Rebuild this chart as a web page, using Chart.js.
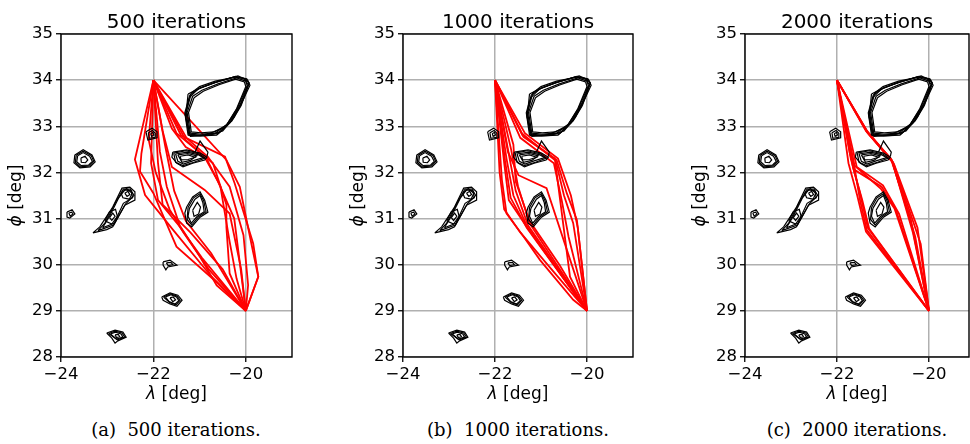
<!DOCTYPE html>
<html>
<head>
<meta charset="utf-8">
<script src="https://cdn.jsdelivr.net/npm/chart.js@4.4.0/dist/chart.umd.min.js"></script>
<style>
  body { margin: 0; width: 970px; height: 444px; overflow: hidden; background: #fff; position: relative; }
  canvas { position: absolute; top: 0; }
  .cap { position: absolute; top: 419px; font-family: "DejaVu Serif"; font-size: 18px; line-height: 21px;
         white-space: pre; transform: translateX(-50%); color: #000; }
</style>
</head>
<body>
<canvas id="c1" width="310" height="410" style="left:0px"></canvas>
<canvas id="c2" width="309" height="410" style="left:342px"></canvas>
<canvas id="c3" width="303" height="410" style="left:684px"></canvas>
<div class="cap" style="left:176px">(a)  500 iterations.</div>
<div class="cap" style="left:518px">(b)  1000 iterations.</div>
<div class="cap" style="left:857px">(c)  2000 iterations.</div>
<script>
// axes
const xTicks = [-24, -22, -20];
const yTicks = [28, 29, 30, 31, 32, 33, 34, 35];
const titles = ['500 iterations', '1000 iterations', '2000 iterations'];
const xMaxes = [-19.0, -19.0, -19.13];

// path end points
const pathStart = [-22, 34];
const pathEnd = [-20, 29];

// red paths, intermediate points (lambda, phi)
const paths500 = [
  [[-22.40, 32.28], [-22.18, 31.51], [-21.57, 30.75], [-20.75, 29.75]],
  [[-22.26, 32.41], [-22.29, 32.02], [-22.00, 31.55], [-21.50, 30.39], [-20.63, 29.62]],
  [[-22.05, 32.20], [-21.90, 31.40], [-21.45, 30.85], [-20.95, 30.15]],
  [[-21.86, 32.45], [-21.71, 31.69], [-21.43, 30.85], [-20.99, 30.17], [-20.63, 29.55]],
  [[-21.80, 32.90], [-21.60, 32.12], [-20.89, 31.62], [-20.35, 31.11], [-20.10, 29.90]],
  [[-21.28, 32.74], [-20.82, 32.34], [-20.35, 31.69], [-20.05, 30.64], [-19.95, 29.56]],
  [[-21.40, 32.80], [-20.45, 32.34], [-20.24, 31.76], [-19.84, 30.46], [-19.73, 29.74]],
  [[-21.30, 32.70], [-20.71, 32.20], [-20.42, 31.30], [-20.42, 30.82], [-20.35, 29.81]],
  [[-21.75, 32.60], [-21.55, 31.60], [-21.30, 30.95], [-20.75, 30.25]],
  [[-21.50, 32.85], [-20.90, 32.35], [-20.60, 31.80], [-20.25, 31.00], [-20.15, 30.20]],
  [[-21.90, 32.20], [-21.80, 31.30], [-21.20, 30.70], [-20.50, 29.90]],
  [[-22.10, 32.70], [-21.95, 32.00], [-21.65, 31.20], [-21.35, 30.70], [-20.80, 29.90]],
  [[-21.60, 32.95], [-21.30, 32.55], [-20.85, 32.30], [-20.55, 31.70], [-20.35, 30.50], [-20.20, 29.70]],
  [[-20.42, 32.27], [-20.13, 31.69], [-19.88, 30.46], [-19.73, 29.74]]
];

const paths1000 = [
  [[-21.85, 31.84], [-21.75, 31.11], [-21.38, 30.61], [-21.02, 30.10], [-20.30, 29.24]],
  [[-21.90, 32.00], [-21.80, 31.20], [-21.45, 30.70], [-20.90, 30.05]],
  [[-21.80, 32.20], [-21.70, 31.40], [-21.33, 30.85]],
  [[-21.75, 32.30], [-21.60, 31.50], [-21.30, 30.82]],
  [[-21.70, 32.40], [-21.55, 31.60], [-21.28, 30.85]],
  [[-21.65, 32.50], [-21.50, 31.70], [-21.25, 30.90]],
  [[-21.72, 32.45], [-21.49, 31.94], [-20.88, 31.66]],
  [[-21.38, 32.77], [-20.66, 32.27], [-20.44, 31.55], [-20.22, 30.97]],
  [[-21.42, 32.85], [-20.68, 32.25], [-20.50, 31.50], [-20.30, 30.90]],
  [[-21.40, 32.80], [-20.70, 32.30], [-20.37, 29.74]],
  [[-21.45, 32.75], [-20.72, 32.20], [-20.55, 31.40], [-20.40, 30.60]],
  [[-21.35, 32.85], [-20.63, 32.30], [-20.35, 31.50], [-20.20, 30.80]],
  [[-21.60, 32.60], [-21.55, 31.80], [-21.25, 30.95], [-20.60, 30.00]],
  [[-21.78, 32.25], [-21.66, 31.45], [-21.31, 30.80]]
];

const paths2000 = [
  [[-21.72, 32.41], [-21.61, 32.05], [-21.50, 31.40], [-21.35, 30.75]],
  [[-21.70, 32.30], [-21.50, 31.55], [-21.33, 30.80]],
  [[-21.75, 32.20], [-21.56, 31.50], [-21.37, 30.72]],
  [[-21.65, 32.10], [-21.45, 31.40], [-21.30, 30.78]],
  [[-21.61, 32.05], [-21.03, 31.69], [-20.72, 31.19]],
  [[-21.57, 32.12], [-21.00, 31.72], [-20.65, 31.10]],
  [[-21.62, 32.15], [-21.05, 31.65], [-20.75, 31.22]],
  [[-21.35, 32.88], [-20.81, 32.27], [-20.30, 30.61]],
  [[-21.33, 32.85], [-20.78, 32.22], [-20.18, 30.45]],
  [[-21.37, 32.90], [-20.83, 32.30], [-20.40, 31.00]],
  [[-21.30, 32.82], [-20.76, 32.18], [-20.25, 30.80]],
  [[-21.36, 32.92], [-20.80, 32.25], [-20.35, 30.70]]
];

// black contour rings (lambda, phi), same in every panel
const contourRings = [
  // large contour, upper right
  [[-21.21, 33.68], [-20.99, 33.83], [-20.63, 33.96], [-20.17, 34.09], [-19.96, 34.00], [-19.91, 33.89], [-20.13, 33.42], [-20.35, 33.07], [-20.63, 32.81], [-20.99, 32.79], [-21.25, 32.81], [-21.32, 33.29], [-21.21, 33.68]],
  [[-21.15, 33.65], [-20.95, 33.78], [-20.60, 33.92], [-20.20, 34.05], [-20.00, 33.98], [-19.97, 33.88], [-20.18, 33.40], [-20.40, 33.05], [-20.66, 32.85], [-20.98, 32.83], [-21.20, 32.85], [-21.27, 33.30], [-21.15, 33.65]],
  [[-21.25, 33.70], [-21.05, 33.80], [-20.70, 33.94], [-20.25, 34.07], [-20.05, 34.04], [-19.93, 33.95], [-20.05, 33.60], [-20.25, 33.20], [-20.50, 32.90], [-20.80, 32.80], [-21.20, 32.78], [-21.30, 33.20], [-21.25, 33.70]],
  [[-21.18, 33.72], [-21.00, 33.86], [-20.66, 33.98], [-20.20, 34.07], [-19.98, 34.03], [-19.93, 33.92], [-20.10, 33.45], [-20.30, 33.12], [-20.60, 32.84], [-21.00, 32.81], [-21.22, 32.83], [-21.29, 33.30], [-21.18, 33.72]],
  [[-21.22, 33.62], [-21.02, 33.82], [-20.65, 33.95], [-20.22, 34.08], [-20.02, 34.02], [-19.95, 33.90], [-20.12, 33.48], [-20.33, 33.10], [-20.58, 32.86], [-20.95, 32.80], [-21.23, 32.80], [-21.31, 33.25], [-21.22, 33.62]],
  [[-21.12, 33.62], [-20.92, 33.76], [-20.58, 33.90], [-20.22, 34.02], [-20.03, 33.96], [-20.00, 33.86], [-20.20, 33.38], [-20.42, 33.02], [-20.68, 32.88], [-20.97, 32.86], [-21.18, 32.88], [-21.24, 33.30], [-21.12, 33.62]],
  [[-20.15, 33.40], [-20.45, 32.98], [-20.85, 32.82]],
  // small contour at (-22, 32.8)
  [[-22.16, 32.88], [-22.03, 32.96], [-21.92, 32.88], [-21.92, 32.75], [-22.12, 32.70], [-22.16, 32.88]],
  [[-22.11, 32.86], [-22.02, 32.91], [-21.96, 32.85], [-21.96, 32.76], [-22.09, 32.74], [-22.11, 32.86]],
  [[-22.06, 32.84], [-22.01, 32.87], [-21.99, 32.81], [-22.04, 32.78], [-22.06, 32.84]],
  // contour at (-23.5, 32.3)
  [[-23.70, 32.38], [-23.52, 32.49], [-23.33, 32.38], [-23.26, 32.23], [-23.37, 32.12], [-23.59, 32.10], [-23.72, 32.21], [-23.70, 32.38]],
  [[-23.67, 32.37], [-23.52, 32.46], [-23.35, 32.37], [-23.29, 32.24], [-23.38, 32.14], [-23.58, 32.12], [-23.69, 32.22], [-23.67, 32.37]],
  [[-23.64, 32.36], [-23.52, 32.43], [-23.38, 32.35], [-23.32, 32.24], [-23.40, 32.16], [-23.57, 32.15], [-23.66, 32.23], [-23.64, 32.36]],
  [[-23.57, 32.31], [-23.48, 32.35], [-23.42, 32.27], [-23.47, 32.21], [-23.56, 32.22], [-23.57, 32.31]],
  // elongated contour
  [[-23.31, 30.69], [-23.16, 30.82], [-22.88, 31.25], [-22.68, 31.66], [-22.51, 31.68], [-22.40, 31.58], [-22.40, 31.40], [-22.62, 31.29], [-22.88, 30.82], [-23.01, 30.76], [-23.31, 30.69]],
  [[-23.20, 30.74], [-23.05, 30.90], [-22.82, 31.35], [-22.65, 31.64], [-22.50, 31.64], [-22.42, 31.50], [-22.60, 31.32], [-22.86, 30.86], [-23.20, 30.74]],
  [[-23.10, 30.80], [-22.95, 31.05], [-22.75, 31.45], [-22.62, 31.62], [-22.48, 31.60], [-22.45, 31.45], [-22.65, 31.33], [-22.85, 30.90], [-23.10, 30.80]],
  [[-22.70, 31.55], [-22.58, 31.65], [-22.46, 31.55], [-22.52, 31.42], [-22.66, 31.45], [-22.70, 31.55]],
  [[-22.62, 31.55], [-22.55, 31.59], [-22.51, 31.52], [-22.57, 31.48], [-22.62, 31.55]],
  [[-23.05, 30.95], [-22.95, 31.15], [-22.82, 31.20], [-22.78, 31.05], [-22.90, 30.88], [-23.05, 30.95]],
  [[-22.95, 31.02], [-22.88, 31.12], [-22.83, 31.05], [-22.90, 30.96], [-22.95, 31.02]],
  // tiny contour at (-23.8, 31.1)
  [[-23.87, 31.14], [-23.76, 31.19], [-23.70, 31.10], [-23.81, 31.01], [-23.87, 31.03], [-23.87, 31.14]],
  [[-23.83, 31.12], [-23.77, 31.14], [-23.74, 31.10], [-23.80, 31.05], [-23.83, 31.12]],
  // contour at (-21.2, 32.3)
  [[-21.58, 32.44], [-21.28, 32.49], [-20.99, 32.42], [-20.84, 32.33], [-20.89, 32.27], [-21.15, 32.20], [-21.36, 32.12], [-21.49, 32.20], [-21.60, 32.33], [-21.58, 32.44]],
  [[-21.56, 32.42], [-21.30, 32.47], [-21.00, 32.40], [-20.88, 32.31], [-21.12, 32.22], [-21.36, 32.15], [-21.52, 32.22], [-21.56, 32.42]],
  [[-21.52, 32.40], [-21.27, 32.44], [-21.02, 32.38], [-20.92, 32.32], [-21.15, 32.25], [-21.35, 32.18], [-21.47, 32.24], [-21.52, 32.40]],
  [[-21.47, 32.38], [-21.26, 32.41], [-21.06, 32.36], [-21.20, 32.26], [-21.38, 32.22], [-21.47, 32.38]],
  [[-21.42, 32.35], [-21.25, 32.38], [-21.10, 32.33], [-21.25, 32.28], [-21.40, 32.27], [-21.42, 32.35]],
  [[-21.10, 32.44], [-20.99, 32.68], [-20.82, 32.44], [-20.84, 32.35]],
  // contour at (-21.0, 31.2)
  [[-21.28, 31.25], [-21.15, 31.47], [-20.99, 31.58], [-20.89, 31.40], [-20.82, 31.14], [-20.99, 31.03], [-21.17, 30.82], [-21.28, 30.90], [-21.32, 31.12], [-21.28, 31.25]],
  [[-21.25, 31.24], [-21.13, 31.45], [-20.99, 31.54], [-20.91, 31.38], [-20.86, 31.15], [-21.02, 31.04], [-21.17, 30.86], [-21.27, 30.98], [-21.25, 31.24]],
  [[-21.22, 31.22], [-21.10, 31.42], [-20.99, 31.50], [-20.93, 31.35], [-20.90, 31.15], [-21.05, 31.05], [-21.18, 30.90], [-21.25, 31.05], [-21.22, 31.22]],
  [[-21.15, 31.18], [-21.05, 31.35], [-20.98, 31.25], [-21.02, 31.10], [-21.12, 31.05], [-21.15, 31.18]],
  // tiny contour at (-21.65, 30.0)
  [[-21.79, 30.06], [-21.64, 30.10], [-21.49, 29.99], [-21.69, 29.95], [-21.73, 29.89], [-21.79, 29.99], [-21.79, 30.06]],
  [[-21.72, 30.04], [-21.62, 30.05], [-21.58, 30.00], [-21.68, 29.98], [-21.72, 30.04]],
  // contour at (-21.6, 29.3)
  [[-21.82, 29.30], [-21.64, 29.39], [-21.47, 29.34], [-21.38, 29.23], [-21.49, 29.10], [-21.64, 29.15], [-21.79, 29.23], [-21.82, 29.30]],
  [[-21.78, 29.30], [-21.63, 29.37], [-21.49, 29.32], [-21.42, 29.23], [-21.51, 29.13], [-21.65, 29.18], [-21.78, 29.30]],
  [[-21.74, 29.30], [-21.62, 29.35], [-21.50, 29.30], [-21.45, 29.22], [-21.53, 29.15], [-21.66, 29.20], [-21.74, 29.30]],
  [[-21.64, 29.28], [-21.57, 29.30], [-21.52, 29.24], [-21.58, 29.20], [-21.64, 29.28]],
  // contour at (-22.8, 28.45)
  [[-23.01, 28.52], [-22.83, 28.58], [-22.66, 28.54], [-22.59, 28.43], [-22.77, 28.35], [-22.83, 28.30], [-22.90, 28.41], [-23.01, 28.52]],
  [[-22.97, 28.51], [-22.83, 28.56], [-22.68, 28.52], [-22.62, 28.43], [-22.78, 28.37], [-22.97, 28.51]],
  [[-22.93, 28.50], [-22.82, 28.54], [-22.70, 28.50], [-22.66, 28.43], [-22.80, 28.39], [-22.93, 28.50]],
  [[-22.83, 28.48], [-22.76, 28.49], [-22.73, 28.44], [-22.80, 28.42], [-22.83, 28.48]]
];

const allPaths = [paths500, paths1000, paths2000];

function fmtTick(v) {
  return v < 0 ? '\u2212' + Math.abs(v) : String(v);
}

function lineSet(points, color, width) {
  return { data: points, borderColor: color, borderWidth: width, pointRadius: 0,
           showLine: true, fill: false, tension: 0 };
}

// frame, title and axis labels
const framePlugin = {
  id: 'framePlugin',
  afterDraw(chart, args, opts) {
    const ctx = chart.ctx;
    const a = chart.chartArea;
    const cx = (a.left + a.right) / 2;
    const cy = (a.top + a.bottom) / 2;
    ctx.save();
    ctx.strokeStyle = '#000';
    ctx.lineWidth = 1.4;
    ctx.strokeRect(a.left, a.top, a.right - a.left, a.bottom - a.top);
    ctx.fillStyle = '#000';
    ctx.textAlign = 'center';
    ctx.textBaseline = 'alphabetic';
    ctx.font = '20px "DejaVu Sans"';
    ctx.fillText(opts.title, cx, 28);

    // mixed italic symbol + unit
    function label(sym, x, y) {
      ctx.font = 'italic 17px "DejaVu Sans"';
      const w1 = ctx.measureText(sym).width;
      ctx.font = '17px "DejaVu Sans"';
      const w2 = ctx.measureText(' [deg]').width;
      const x0 = x - (w1 + w2) / 2;
      ctx.textAlign = 'left';
      ctx.textBaseline = 'middle';
      ctx.font = 'italic 17px "DejaVu Sans"';
      ctx.fillText(sym, x0, y);
      ctx.font = '17px "DejaVu Sans"';
      ctx.fillText(' [deg]', x0 + w1, y);
    }
    label('\u03bb', cx, 395);
    ctx.translate(17, cy);
    ctx.rotate(-Math.PI / 2);
    label('\u03d5', 0, 0);
    ctx.restore();
  }
};

const gridOpts = { color: '#b0b0b0', lineWidth: 1.5, tickColor: '#000', tickLength: 5, tickWidth: 1.3 };
const tickFont = { family: 'DejaVu Sans', size: 16.5 };

for (let i = 0; i < 3; i++) {
  const datasets = [];
  contourRings.forEach(r => datasets.push(lineSet(r, '#000', 1.2)));
  allPaths[i].forEach(p => datasets.push(lineSet([pathStart, ...p, pathEnd], '#ff0000', 1.8)));

  new Chart(document.getElementById('c' + (i + 1)), {
    type: 'scatter',
    data: { datasets: datasets },
    plugins: [framePlugin],
    options: {
      responsive: false,
      animation: false,
      devicePixelRatio: 1,
      events: [],
      layout: { padding: { top: 34, right: 18, left: 0, bottom: 0 } },
      plugins: {
        legend: { display: false },
        tooltip: { enabled: false },
        framePlugin: { title: titles[i] }
      },
      scales: {
        x: {
          type: 'linear', min: -24, max: xMaxes[i],
          afterBuildTicks: s => { s.ticks = xTicks.map(v => ({ value: v })); },
          afterFit: s => { s.height = 53; },
          grid: gridOpts,
          border: { display: false },
          ticks: { color: '#000', font: tickFont, padding: 3, maxRotation: 0, callback: fmtTick }
        },
        y: {
          type: 'linear', min: 28, max: 35,
          afterBuildTicks: s => { s.ticks = yTicks.map(v => ({ value: v })); },
          afterFit: s => { s.width = 61; },
          grid: gridOpts,
          border: { display: false },
          ticks: { color: '#000', font: tickFont, padding: 3, callback: fmtTick }
        }
      }
    }
  });
}
</script>
</body>
</html>
